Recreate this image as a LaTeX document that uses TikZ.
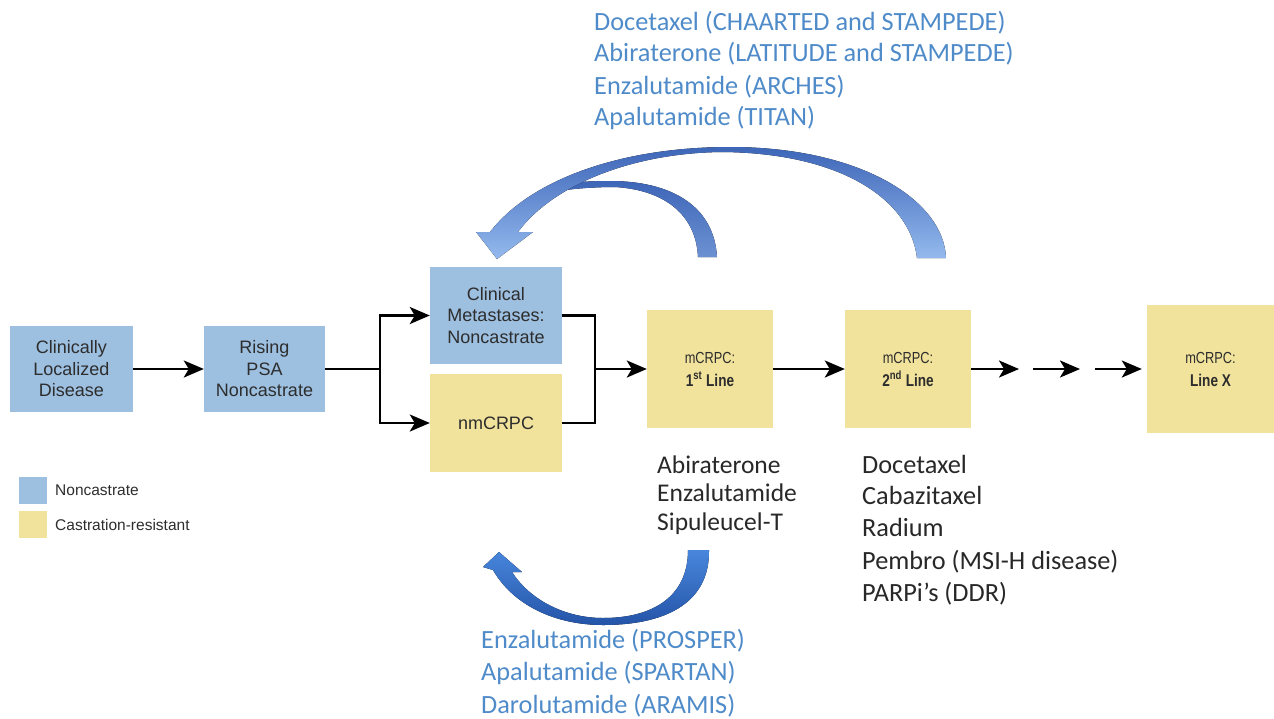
\documentclass[tikz,border=0pt]{standalone}
\usepackage{fontspec}
\setmainfont{Liberation Sans}
\newfontfamily\carfont{Carlito}
\newfontfamily\condfont[FakeStretch=0.8]{Liberation Sans}
\usetikzlibrary{arrows.meta}
\definecolor{ncblue}{RGB}{157,191,224}
\definecolor{cryellow}{RGB}{241,226,156}
\definecolor{bluetxt}{RGB}{79,139,201}
\definecolor{darktxt}{RGB}{40,40,40}
\definecolor{boxtxt}{RGB}{45,45,45}
\definecolor{arcdark}{RGB}{62,102,184}
\definecolor{arcmid}{RGB}{108,145,210}
\definecolor{arclight}{RGB}{148,186,238}
\definecolor{botlight}{RGB}{72,135,220}
\definecolor{botdark}{RGB}{36,84,168}
\begin{document}
\begin{tikzpicture}[x=1pt,y=-1pt,
  box/.style={rectangle, inner sep=0pt, align=center, text=boxtxt,
    font=\fontsize{18}{21.5}\selectfont},
  bluebox/.style={box, fill=ncblue},
  yelbox/.style={box, fill=cryellow},
  linebox/.style={box, font=\condfont\fontsize{16}{23}\selectfont, minimum width=126pt},
  flow/.style={line width=2.5pt, draw=black},
  arr/.style={flow, -{Stealth[length=20pt,width=17pt,inset=5pt]}},
  listtxt/.style={inner sep=0pt, anchor=base west, font=\carfont\fontsize{26.3}{30}\selectfont},
  firsttxt/.style={listtxt, font=\carfont\fontsize{25.5}{30}\selectfont},
  legtxt/.style={inner sep=0pt, anchor=west, text=boxtxt, font=\fontsize{15.5}{16}\selectfont}]
\useasboundingbox (0,0) rectangle (1274,718);

% boxes
\node[bluebox, minimum width=123pt, minimum height=86pt] (cld) at (71.5,369) {Clinically\\Localized\\Disease};
\node[bluebox, minimum width=121pt, minimum height=86pt] (rpsa) at (264.5,369) {Rising\\PSA\\Noncastrate};
\node[bluebox, minimum width=132pt, minimum height=97pt] (cmn) at (496,315.5) {Clinical\\Metastases:\\Noncastrate};
\node[yelbox, minimum width=132pt, minimum height=98pt] (nm) at (496,423) {nmCRPC};
\node[yelbox, linebox, minimum height=118pt] (l1) at (710,369) {mCRPC:\\{\condfont\fontsize{17}{23}\selectfont\bfseries 1\textsuperscript{st} Line}};
\node[yelbox, linebox, minimum height=118pt] (l2) at (908,369) {mCRPC:\\{\condfont\fontsize{17}{23}\selectfont\bfseries 2\textsuperscript{nd} Line}};
\node[yelbox, linebox, minimum width=127pt, minimum height=128pt] (lx) at (1210.5,369) {mCRPC:\\{\condfont\fontsize{17}{23}\selectfont\bfseries Line X}};

% connectors
\coordinate (s1) at (380,369);
\coordinate (j1) at (595,369);
\coordinate (e1) at (1019,369);
\coordinate (d1) at (1033,369);
\coordinate (d2) at (1080,369);
\coordinate (d3) at (1095,369);
\draw[arr] (cld) -- (rpsa);
\draw[flow] (rpsa.east) -- (s1);
\draw[arr] (s1) |- (cmn.west);
\draw[arr] (s1) |- (nm.west);
\draw[flow] (cmn.east) -| (j1);
\draw[flow] (nm.east) -| (j1);
\draw[arr] (j1) -- (l1.west);
\draw[arr] (l1) -- (l2);
\draw[arr] (l2.east) -- (e1);
\draw[arr] (d1) -- (d2);
\draw[arr, shorten >=5pt] (d3) -- (lx.west);

% curved arrows (top)
\fill[top color=arcdark, bottom color=arcmid]
  (717,257) .. controls (714,205) and (670,181) .. (610,181)
  .. controls (592,181) and (575,182) .. (560,184) -- (566,190)
  .. controls (580,188) and (600,187) .. (615,187)
  .. controls (665,190) and (696,215) .. (698,257) -- cycle;
\fill[top color=arcdark, bottom color=arclight]
  (946,258) .. controls (944,200) and (860,147) .. (730,147)
  .. controls (620,147) and (530,180) .. (490,232)
  -- (476,232) -- (497,259) -- (533,232) -- (518,232)
  .. controls (552,186) and (630,153) .. (722,152)
  .. controls (842,153) and (910,200) .. (917,258) -- cycle;
% curved arrow (bottom)
\fill[top color=botlight, bottom color=botdark]
  (709,550) .. controls (710,600) and (670,625) .. (603,625)
  .. controls (555,625) and (513,605) .. (493,570)
  -- (483,567) -- (499,552) -- (522,572) -- (512,572)
  .. controls (530,600) and (565,618) .. (603,618)
  .. controls (655,618) and (688,595) .. (688,550) -- cycle;

% legend
\node[fill=ncblue, minimum width=28pt, minimum height=27pt, inner sep=0pt] (lgb) at (33,490.5) {};
\node[fill=cryellow, minimum width=28pt, minimum height=27pt, inner sep=0pt] (lgy) at (33,524.5) {};
\node[legtxt] (lgbt) at (55,490.5) {Noncastrate};
\node[legtxt] (lgyt) at (55,524.5) {Castration-resistant};

% top blue list
\node[listtxt, text=bluetxt] (tb1) at (594,30) {Docetaxel (CHAARTED and STAMPEDE)};
\node[listtxt, text=bluetxt] (tb2) at (594,61) {Abiraterone (LATITUDE and STAMPEDE)};
\node[listtxt, text=bluetxt] (tb3) at (594,94) {Enzalutamide (ARCHES)};
\node[listtxt, text=bluetxt] (tb4) at (594,125) {Apalutamide (TITAN)};

% first-line list
\node[firsttxt, text=darktxt] (fl1) at (657,473) {Abiraterone};
\node[firsttxt, text=darktxt] (fl2) at (657,501.5) {Enzalutamide};
\node[firsttxt, text=darktxt] (fl3) at (657,530) {Sipuleucel-T};

% second-line list
\node[listtxt, text=darktxt] (sl1) at (862,473) {Docetaxel};
\node[listtxt, text=darktxt] (sl2) at (862,504) {Cabazitaxel};
\node[listtxt, text=darktxt] (sl3) at (862,536) {Radium};
\node[listtxt, text=darktxt] (sl4) at (862,569) {Pembro (MSI-H disease)};
\node[listtxt, text=darktxt] (sl5) at (862,601) {PARPi’s (DDR)};

% bottom blue list
\node[listtxt, text=bluetxt] (bb1) at (481,648) {Enzalutamide (PROSPER)};
\node[listtxt, text=bluetxt] (bb2) at (481,680) {Apalutamide (SPARTAN)};
\node[listtxt, text=bluetxt] (bb3) at (481,713) {Darolutamide (ARAMIS)};
\end{tikzpicture}
\end{document}
